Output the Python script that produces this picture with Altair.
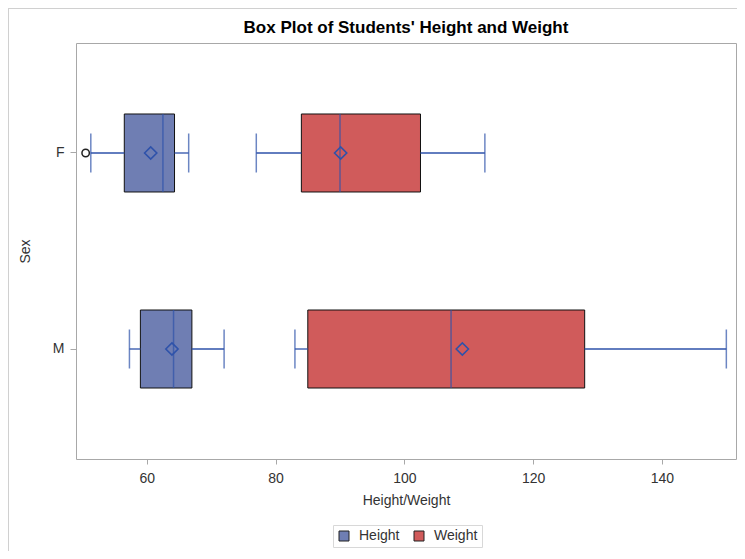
import altair as alt
import pandas as pd

# Summary statistics
sex = ["F", "F", "M", "M"]
variable = ["Height", "Weight", "Height", "Weight"]
whisker_low = [51.3, 77.0, 57.3, 83.0]
q1 = [56.5, 84.0, 59.0, 85.0]
median = [62.5, 90.0, 64.15, 107.25]
q3 = [64.3, 102.5, 67.0, 128.0]
whisker_high = [66.5, 112.5, 72.0, 150.0]
mean = [60.6, 90.1, 63.9, 109.0]

outlier_sex = ["F"]
outlier_var = ["Weight"]
outlier_val = [50.5]

x_ticks = [60, 80, 100, 120, 140]
categories = ["F", "M"]
series = ["Height", "Weight"]
fills = ["#6F7EB3", "#D05B5B"]

df = pd.DataFrame({
    "sex": sex, "variable": variable, "wlo": whisker_low, "q1": q1,
    "median": median, "q3": q3, "whi": whisker_high, "mean": mean,
})
out_df = pd.DataFrame({"sex": outlier_sex, "variable": outlier_var, "value": outlier_val})

FONT = "Liberation Sans"
BLUE = "#2E52AA"
XT = "Height/Weight"

xscale = alt.Scale(domain=[49, 151.5], nice=False, zero=False)
xaxis = alt.Axis(values=x_ticks, title=XT)
yenc = alt.Y("sex:N", sort=categories,
             scale=alt.Scale(paddingInner=0, paddingOuter=0.0612),
             axis=alt.Axis(title="Sex", labelAngle=0, tickSize=6, labelPadding=6,
                           titlePadding=20))

base = alt.Chart(df)

boxes = base.mark_bar(size=78, stroke="#111111", strokeWidth=1).encode(
    x=alt.X("q1:Q", scale=xscale, axis=xaxis, title=XT),
    x2="q3:Q",
    y=yenc,
    color=alt.Color("variable:N", scale=alt.Scale(domain=series, range=fills),
                    legend=alt.Legend(title=None)),
)

wlow = base.mark_rule(color=BLUE, strokeWidth=1.3).encode(
    x=alt.X("wlo:Q", scale=xscale, title=XT), x2="q1:Q", y=yenc)
whigh = base.mark_rule(color=BLUE, strokeWidth=1.3).encode(
    x=alt.X("q3:Q", scale=xscale, title=XT), x2="whi:Q", y=yenc)
cap_lo = base.mark_tick(color=BLUE, size=39, thickness=1.5, orient="vertical").encode(
    x=alt.X("wlo:Q", scale=xscale, title=XT), y=yenc)
cap_hi = base.mark_tick(color=BLUE, size=39, thickness=1.5, orient="vertical").encode(
    x=alt.X("whi:Q", scale=xscale, title=XT), y=yenc)
med = base.mark_tick(color=BLUE, size=78, thickness=1.5, orient="vertical").encode(
    x=alt.X("median:Q", scale=xscale, title=XT), y=yenc)
mn = base.mark_point(shape="diamond", filled=False, size=150, strokeWidth=1.6,
                     color=BLUE, opacity=1).encode(
    x=alt.X("mean:Q", scale=xscale, title=XT), y=yenc)
outl = alt.Chart(out_df).mark_point(shape="circle", filled=False, size=55,
                                    strokeWidth=1.5, color="#222222", opacity=1).encode(
    x=alt.X("value:Q", scale=xscale, title=XT), y=yenc)

frame_left = base.mark_rule(color="#D0D0D0", strokeWidth=1).encode(
    x=alt.value(-67.5), y=alt.value(-34.5), y2=alt.value(508))
frame_top = base.mark_rule(color="#D0D0D0", strokeWidth=1).encode(
    x=alt.value(-67.5), x2=alt.value(661), y=alt.value(-34.5))

chart = alt.layer(frame_left, frame_top, boxes, wlow, whigh, cap_lo, cap_hi, med, mn, outl).properties(
    width=660, height=416,
    title=alt.TitleParams("Box Plot of Students' Height and Weight", fontSize=17,
                          font=FONT, fontWeight="bold", color="#000000",
                          anchor="middle", frame="group", baseline="alphabetic", offset=-42),
    autosize=alt.AutoSizeParams(type="none"),
    padding={"left": 68, "top": 35, "right": 1, "bottom": 92},
).configure_view(
    stroke="#A8A8A8", strokeWidth=1
).configure_axis(
    domain=False, grid=False, tickColor="#A8A8A8", labelFont=FONT, titleFont=FONT,
    labelFontSize=14, titleFontSize=14, labelColor="#333333", titleColor="#333333",
    titleFontWeight="normal",
).configure_axisX(
    tickSize=5, labelPadding=7, titlePadding=8,
).configure_legend(
    orient="none", legendX=257, legendY=482, direction="horizontal",
    strokeColor="#D8D8D8", padding=4, symbolType="square", symbolSize=100,
    symbolStrokeColor="#222222", symbolStrokeWidth=1, labelFont=FONT,
    labelFontSize=14, labelColor="#333333", columnPadding=12, labelOffset=8,
)

chart.save("out.html", embed_options={"renderer": "svg", "actions": False})
